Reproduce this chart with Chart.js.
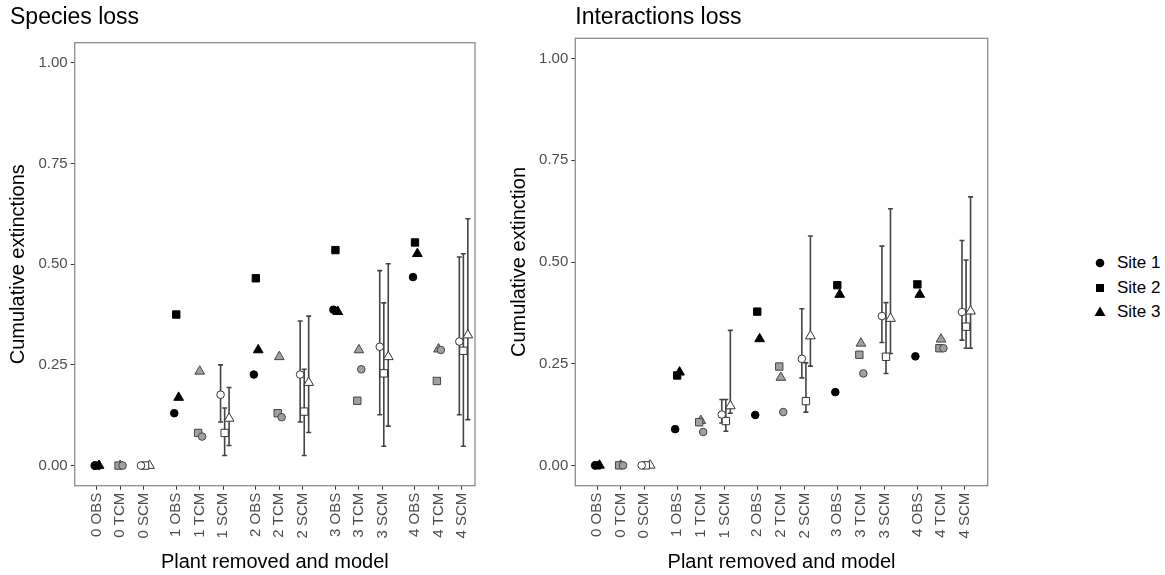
<!DOCTYPE html>
<html>
<head>
<meta charset="utf-8">
<title>Species and interactions loss</title>
<script src="https://cdn.jsdelivr.net/npm/chart.js@4.4.1/dist/chart.umd.min.js"></script>
<style>
  body { margin: 0; background: #fff; font-family: "Liberation Sans", Arial, sans-serif; }
  #wrap { position: relative; width: 1165px; height: 575px; overflow: hidden; }
  #species-chart { position: absolute; left: 0; top: 0; }
  #interactions-chart { position: absolute; left: 500px; top: 0; }
  #legend { position: absolute; left: 1092px; top: 251px; }
  .legend-item { display: flex; align-items: center; height: 24.5px; font-size: 17px; color: #000; }
  .legend-item svg { width: 16px; height: 16px; margin-right: 9px; }
</style>
</head>
<body>
<div id="wrap">
  <canvas id="species-chart" width="500" height="575"></canvas>
  <canvas id="interactions-chart" width="500" height="575"></canvas>
  <div id="legend"></div>
</div>
<script>
// -----------------------------
// DATA
// -----------------------------
const plantsRemoved = [0, 1, 2, 3, 4];
const models = ["OBS", "TCM", "SCM"];
const sites = ["Site 1", "Site 2", "Site 3"];
const categoryLabels = plantsRemoved.flatMap(p => models.map(m => `${p} ${m}`));
const yTicks = [0, 0.25, 0.5, 0.75, 1];

// one value per category: 0 OBS, 0 TCM, 0 SCM, 1 OBS, ...
const speciesSite1 = [0, 0, 0, 0.130, 0.072, 0.176, 0.226, 0.120, 0.226, 0.387, 0.239, 0.295, 0.468, 0.287, 0.308];
const speciesSite2 = [0, 0, 0, 0.375, 0.081, 0.081, 0.465, 0.130, 0.134, 0.535, 0.161, 0.229, 0.554, 0.210, 0.285];
const speciesSite3 = [0, 0, 0, 0.169, 0.234, 0.117, 0.287, 0.270, 0.206, 0.382, 0.287, 0.270, 0.526, 0.289, 0.324];

// SCM ranges, one per plant removed
const speciesSite1Low  = [0, 0.108, 0.108, 0.126, 0.126];
const speciesSite1High = [0, 0.250, 0.359, 0.484, 0.518];
const speciesSite2Low  = [0, 0.025, 0.025, 0.048, 0.048];
const speciesSite2High = [0, 0.143, 0.239, 0.404, 0.526];
const speciesSite3Low  = [0, 0.050, 0.082, 0.098, 0.114];
const speciesSite3High = [0, 0.194, 0.371, 0.501, 0.613];

const interSite1 = [0, 0, 0, 0.089, 0.082, 0.125, 0.124, 0.131, 0.262, 0.180, 0.226, 0.367, 0.268, 0.288, 0.377];
const interSite2 = [0, 0, 0, 0.221, 0.106, 0.109, 0.378, 0.243, 0.158, 0.443, 0.272, 0.267, 0.445, 0.288, 0.341];
const interSite3 = [0, 0, 0, 0.229, 0.110, 0.146, 0.311, 0.216, 0.318, 0.420, 0.300, 0.361, 0.420, 0.310, 0.379];

const interSite1Low  = [0, 0.104, 0.215, 0.302, 0.308];
const interSite1High = [0, 0.162, 0.385, 0.539, 0.553];
const interSite2Low  = [0, 0.084, 0.131, 0.226, 0.288];
const interSite2High = [0, 0.162, 0.252, 0.400, 0.505];
const interSite3Low  = [0, 0.128, 0.244, 0.275, 0.288];
const interSite3High = [0, 0.332, 0.564, 0.631, 0.660];

// -----------------------------
// LOOK
// -----------------------------
const FONT = "'Liberation Sans', Arial, sans-serif";
const modelStep = 0.295;           // spacing of models inside a plant group
const siteDodge = {                // small horizontal dodge of each site
  OBS: [-0.025, 0, 0.03],
  TCM: [0.03, -0.02, 0],
  SCM: [-0.033, 0.018, 0.074]
};
const siteShapes = ["circle", "rect", "triangle"];
const siteRadius = [3.8, 5.2, 5.6];
const modelFill = { OBS: "#000000", TCM: "#a0a0a0", SCM: "#ffffff" };
const modelLine = { OBS: "#000000", TCM: "#444444", SCM: "#333333" };

const tickX = categoryLabels.map((_, i) => plantsRemoved[Math.floor(i / 3)] + (i % 3) * modelStep);

// -----------------------------
// PLUGINS
// -----------------------------
const errorBarPlugin = {
  id: "scmErrorBars",
  beforeDatasetsDraw(chart) {
    const { ctx } = chart;
    const yScale = chart.scales.y;
    ctx.save();
    ctx.strokeStyle = "#444444";
    ctx.lineWidth = 1.6;
    chart.data.datasets.forEach((ds, di) => {
      const meta = chart.getDatasetMeta(di);
      ds.errLow.forEach((lo, p) => {
        const hi = ds.errHigh[p];
        if (hi - lo <= 0) return;
        const pt = meta.data[p * 3 + 2];
        const yLo = yScale.getPixelForValue(lo);
        const yHi = yScale.getPixelForValue(hi);
        ctx.beginPath();
        ctx.moveTo(pt.x, yLo); ctx.lineTo(pt.x, yHi);
        ctx.moveTo(pt.x - 2.5, yLo); ctx.lineTo(pt.x + 2.5, yLo);
        ctx.moveTo(pt.x - 2.5, yHi); ctx.lineTo(pt.x + 2.5, yHi);
        ctx.stroke();
      });
    });
    ctx.restore();
  }
};

const panelBorderPlugin = {
  id: "panelBorder",
  afterDatasetsDraw(chart) {
    const { ctx, chartArea: a } = chart;
    ctx.save();
    ctx.strokeStyle = "#8c8c8c";
    ctx.lineWidth = 1.3;
    ctx.strokeRect(a.left, a.top, a.right - a.left, a.bottom - a.top);
    ctx.restore();
  }
};

// -----------------------------
// PANEL BUILDER
// -----------------------------
function makePanel(canvasId, panel) {
  const datasets = sites.map((site, s) => ({
    label: site,
    data: panel.values[s].map((v, i) => ({
      x: tickX[i] + siteDodge[models[i % 3]][s],
      y: v
    })),
    errLow: panel.lows[s],
    errHigh: panel.highs[s],
    pointStyle: siteShapes[s],
    pointRadius: siteRadius[s],
    pointBorderWidth: 1,
    pointBackgroundColor: categoryLabels.map((_, i) => modelFill[models[i % 3]]),
    pointBorderColor: categoryLabels.map((_, i) => modelLine[models[i % 3]]),
    showLine: false
  }));

  return new Chart(document.getElementById(canvasId).getContext("2d"), {
    type: "scatter",
    data: { datasets },
    plugins: [errorBarPlugin, panelBorderPlugin],
    options: {
      responsive: false,
      animation: false,
      layout: { padding: { left: panel.padLeft, right: panel.padRight, top: 0, bottom: 0 } },
      plugins: {
        legend: { display: false },
        tooltip: { enabled: false },
        title: {
          display: true,
          text: panel.title,
          align: "start",
          fullSize: panel.titleFullSize,
          color: "#000",
          font: { family: FONT, size: 23, weight: "normal" },
          padding: { top: 4, bottom: panel.titleGap }
        }
      },
      scales: {
        x: {
          type: "linear",
          min: panel.xMin,
          max: panel.xMax,
          afterBuildTicks: axis => { axis.ticks = tickX.map(v => ({ value: v })); },
          afterFit: axis => { axis.height = 89.3; },
          grid: { drawOnChartArea: false, drawTicks: true, tickLength: 4, color: "#333" },
          border: { display: false },
          ticks: {
            autoSkip: false,
            minRotation: 90,
            maxRotation: 90,
            padding: 3,
            color: "#4d4d4d",
            font: { family: FONT, size: 15 },
            callback: (value, index) => categoryLabels[index]
          },
          title: {
            display: true,
            text: "Plant removed and model",
            color: "#000",
            font: { family: FONT, size: 20 },
            padding: { top: 0, bottom: 1 }
          }
        },
        y: {
          min: -0.05,
          max: 1.05,
          afterBuildTicks: axis => { axis.ticks = yTicks.map(v => ({ value: v })); },
          afterFit: axis => { axis.width = panel.yWidth; },
          grid: { drawOnChartArea: false, drawTicks: true, tickLength: 4, color: "#333" },
          border: { display: false },
          ticks: {
            padding: 3,
            color: "#4d4d4d",
            font: { family: FONT, size: 15 },
            callback: value => value.toFixed(2)
          },
          title: {
            display: true,
            text: panel.yTitle,
            color: "#000",
            font: { family: FONT, size: 20 },
            padding: { top: -4, bottom: 0 }
          }
        }
      }
    }
  });
}

// -----------------------------
// LEGEND (shared)
// -----------------------------
function buildLegend() {
  const shapes = [
    '<circle cx="8" cy="8" r="4.3" fill="#000"/>',
    '<rect x="4" y="4" width="8" height="8" fill="#000"/>',
    '<polygon points="8,2.5 13.5,12 2.5,12" fill="#000"/>'
  ];
  const legendEl = document.getElementById("legend");
  legendEl.innerHTML = sites.map((site, s) =>
    `<div class="legend-item"><svg viewBox="0 0 16 16">${shapes[s]}</svg><span>${site}</span></div>`
  ).join("");
}

// -----------------------------
// INITIALIZE
// -----------------------------
makePanel("species-chart", {
  title: "Species loss",
  yTitle: "Cumulative extinctions",
  values: [speciesSite1, speciesSite2, speciesSite3],
  lows: [speciesSite1Low, speciesSite2Low, speciesSite3Low],
  highs: [speciesSite1High, speciesSite2High, speciesSite3High],
  xMin: -0.276, xMax: 4.754,
  padLeft: 10, padRight: 25, yWidth: 64.7,
  titleFullSize: true, titleGap: 11.1
});

makePanel("interactions-chart", {
  title: "Interactions loss",
  yTitle: "Cumulative extinction",
  values: [interSite1, interSite2, interSite3],
  lows: [interSite1Low, interSite2Low, interSite3Low],
  highs: [interSite1High, interSite2High, interSite3High],
  xMin: -0.272, xMax: 4.878,
  padLeft: 11, padRight: 12.3, yWidth: 64.3,
  titleFullSize: false, titleGap: 6.7
});

buildLegend();
</script>
</body>
</html>
